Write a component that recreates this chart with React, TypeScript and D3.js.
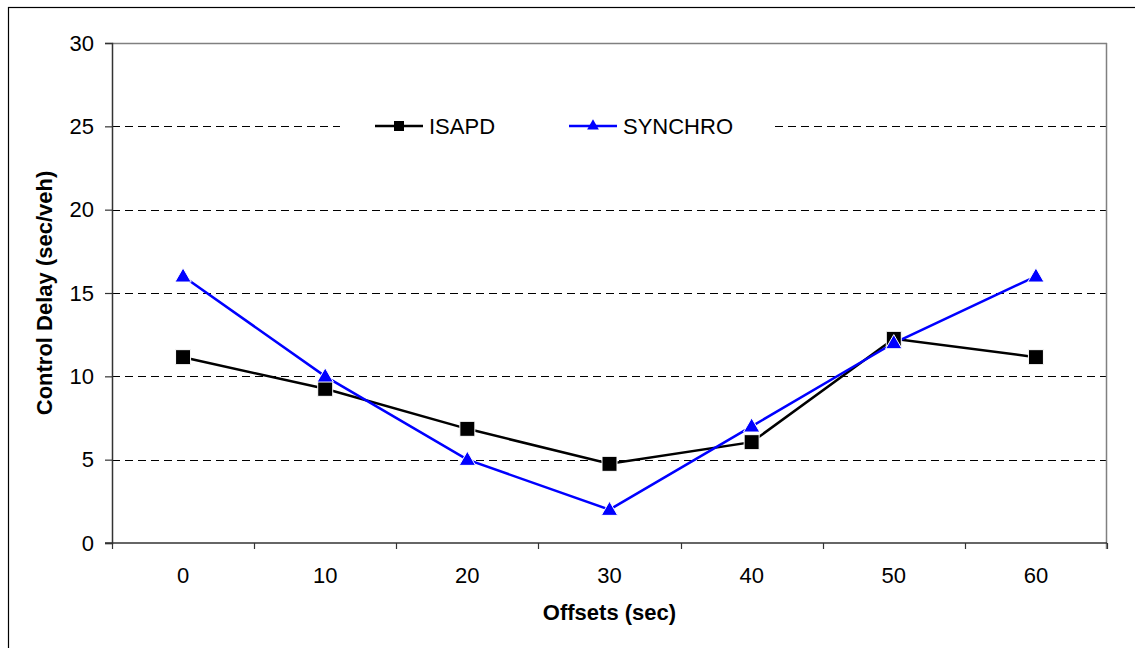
import React, { useRef, useEffect } from 'react';
import * as d3 from 'd3';

const offsets = ['0', '10', '20', '30', '40', '50', '60'];
const isapd = [11.15, 9.25, 6.85, 4.75, 6.05, 12.25, 11.15];
const synchro = [16, 10, 5, 2, 7, 12, 16];
const yTicks = [0, 5, 10, 15, 20, 25, 30];

const W = 1135;
const H = 648;
const margin = { top: 43, right: 28, bottom: 105, left: 112 };

const App = () => {
  const ref = useRef<SVGSVGElement>(null);

  useEffect(() => {
    const root = d3.select(ref.current);
    root.selectAll('*').remove();
    const font = 'Liberation Sans, Arial, sans-serif';
    const fs = 22;

    root.append('rect')
      .attr('x', 8.5).attr('y', 7.5)
      .attr('width', W + 10).attr('height', H + 10)
      .attr('fill', 'white').attr('stroke', 'black').attr('stroke-width', 1.2);

    const width = W - margin.left - margin.right;
    const height = H - margin.top - margin.bottom;
    const g = root.append('g').attr('transform', `translate(${margin.left},${margin.top})`);

    const x = d3.scaleBand().domain(offsets).range([0, width]);
    const y = d3.scaleLinear().domain([0, 30]).range([height, 0]);
    const cx = (d: string) => (x(d) as number) + x.bandwidth() / 2;

    // gridlines
    g.selectAll('.grid')
      .data(yTicks.filter(t => t > 0 && t < 30))
      .enter().append('line')
      .attr('x1', 0).attr('x2', width)
      .attr('y1', d => Math.round(y(d)) + 0.5).attr('y2', d => Math.round(y(d)) + 0.5)
      .attr('stroke', '#000').attr('stroke-dasharray', '8,5');

    // plot frame top/right gray
    g.append('line').attr('x1', 0).attr('x2', width).attr('y1', 0.5).attr('y2', 0.5)
      .attr('stroke', '#808080').attr('stroke-width', 1.5);
    g.append('line').attr('x1', width - 0.5).attr('x2', width - 0.5).attr('y1', 0).attr('y2', height + 6)
      .attr('stroke', '#808080').attr('stroke-width', 1.5);

    // y axis
    const yAxis = g.append('g').call(d3.axisLeft(y).tickValues(yTicks).tickSize(7).tickPadding(11));
    yAxis.select('.domain').attr('stroke', '#333').attr('stroke-width', 1.5);
    yAxis.selectAll('.tick line').attr('stroke', '#333').attr('stroke-width', 1.2);
    yAxis.selectAll('.tick text').attr('font-family', font).attr('font-size', fs).attr('fill', '#000');

    // x axis
    const xAxisG = g.append('g').attr('transform', `translate(0,${height})`);
    xAxisG.append('line').attr('x1', -7).attr('x2', width).attr('y1', 0).attr('y2', 0)
      .attr('stroke', '#333').attr('stroke-width', 1.5);
    const bounds = offsets.map(d => x(d) as number).concat([width]);
    xAxisG.selectAll('.xt').data(bounds).enter().append('line')
      .attr('x1', d => Math.round(d) + 0.5).attr('x2', d => Math.round(d) + 0.5)
      .attr('y1', 0).attr('y2', 6).attr('stroke', '#333').attr('stroke-width', 1.2);
    xAxisG.selectAll('.xl').data(offsets).enter().append('text')
      .attr('x', d => cx(d)).attr('y', 40)
      .attr('text-anchor', 'middle').attr('font-family', font).attr('font-size', fs)
      .text(d => d);

    // titles
    g.append('text')
      .attr('x', width / 2).attr('y', height + 77)
      .attr('text-anchor', 'middle').attr('font-family', font).attr('font-size', fs)
      .attr('font-weight', 'bold').text('Offsets (sec)');
    g.append('text')
      .attr('transform', `translate(${-60},${height / 2}) rotate(-90)`)
      .attr('text-anchor', 'middle').attr('font-family', font).attr('font-size', fs)
      .attr('font-weight', 'bold').text('Control Delay (sec/veh)');

    const line = d3.line<number>().x((_, i) => cx(offsets[i])).y(d => y(d));

    g.append('path').datum(isapd).attr('d', line)
      .attr('fill', 'none').attr('stroke', '#000').attr('stroke-width', 2.5);
    g.append('path').datum(synchro).attr('d', line)
      .attr('fill', 'none').attr('stroke', '#0000ff').attr('stroke-width', 2.5);

    const sq = d3.symbol().type(d3.symbolSquare).size(225)();
    const tri = d3.symbol().type(d3.symbolTriangle).size(115)();

    g.selectAll('.sq').data(isapd).enter().append('path')
      .attr('d', sq)
      .attr('transform', (d, i) => `translate(${cx(offsets[i])},${y(d)})`)
      .attr('fill', '#000').attr('stroke', 'white').attr('stroke-width', 1);
    g.selectAll('.tri').data(synchro).enter().append('path')
      .attr('d', tri)
      .attr('transform', (d, i) => `translate(${cx(offsets[i])},${y(d) + 1})`)
      .attr('fill', '#0000ff').attr('stroke', 'white').attr('stroke-width', 1);

    // legend
    const lg = root.append('g').attr('transform', 'translate(340,126)');
    lg.append('rect').attr('x', 0).attr('y', -14).attr('width', 430).attr('height', 28).attr('fill', 'white');
    const items = [
      { name: 'ISAPD', color: '#000', d: d3.symbol().type(d3.symbolSquare).size(100)(), x0: 35 },
      { name: 'SYNCHRO', color: '#0000ff', d: d3.symbol().type(d3.symbolTriangle).size(60)(), x0: 229 },
    ];
    items.forEach(it => {
      lg.append('line').attr('x1', it.x0).attr('x2', it.x0 + 48).attr('y1', 0).attr('y2', 0)
        .attr('stroke', it.color).attr('stroke-width', 2.5);
      lg.append('path').attr('d', it.d)
        .attr('transform', `translate(${it.x0 + 24},0)`)
        .attr('fill', it.color);
      lg.append('text').attr('x', it.x0 + 54).attr('y', 8)
        .attr('font-family', font).attr('font-size', fs).text(it.name);
    });
  }, []);

  return <svg ref={ref} width={W} height={H} style={{ position: 'absolute', left: 0, top: 0 }} />;
};

export default App;
